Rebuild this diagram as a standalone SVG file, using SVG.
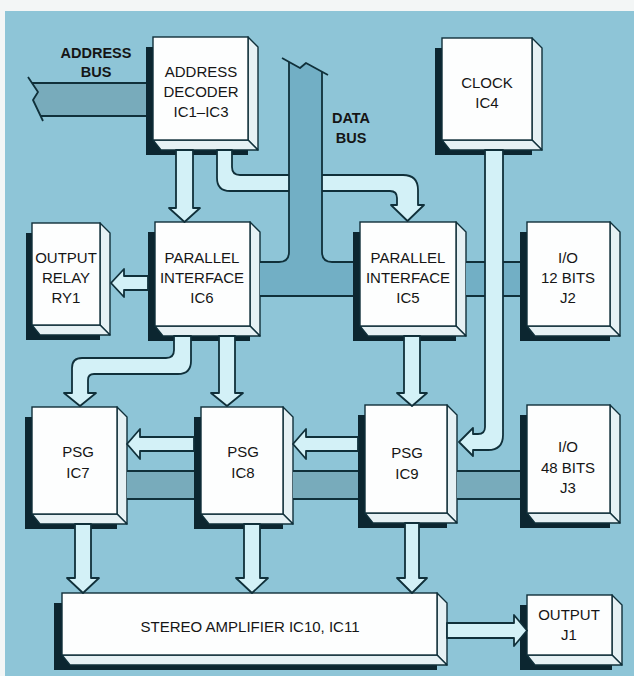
<svg xmlns="http://www.w3.org/2000/svg" width="634" height="676" viewBox="0 0 634 676">
<defs>
<style>
.sh{fill:#0c2630}
.bv{fill:#e6f1f4;stroke:#10303a;stroke-width:1.4;stroke-linejoin:round}
.fc{fill:#fdfefe;stroke:#10303a;stroke-width:1.4}
.t{font-family:"Liberation Sans",Arial,sans-serif;font-size:15px;fill:#151515;text-anchor:middle}
.lb{font-family:"Liberation Sans",Arial,sans-serif;font-size:14.5px;font-weight:bold;fill:#151515;text-anchor:middle}
.ar{fill:#d3f1f7;stroke:#10303a;stroke-width:1.8;stroke-linejoin:round}
.ln{fill:none;stroke:#10303a;stroke-width:1.8;stroke-linejoin:round}
.db{fill:#72afc5}
.ab{fill:#78abbb}
</style>
</defs>
<rect x="0" y="0" width="634" height="676" fill="#f3f6f6"/>
<rect x="5" y="11" width="629" height="665" fill="#8ec5d7"/>

<g id="labels">
<text class="lb" x="96" y="58">ADDRESS</text>
<text class="lb" x="96" y="77">BUS</text>
<text class="lb" x="351" y="123">DATA</text>
<text class="lb" x="351" y="143">BUS</text>
</g>

<g id="decoder">
<rect class="sh" x="146" y="47" width="102" height="108"/>
<polygon class="bv" points="248,37 258,47 258,150 248,140"/>
<polygon class="bv" points="153,140 248,140 258,150 161,150"/>
<rect class="fc" x="153" y="37" width="95" height="103"/>
<text class="t" x="201" y="77">ADDRESS</text>
<text class="t" x="201" y="97">DECODER</text>
<text class="t" x="201" y="117">IC1–IC3</text>
</g>

<g id="clock">
<rect class="sh" x="435" y="48" width="97" height="107"/>
<polygon class="bv" points="532,38 542,48 542,150 532,140"/>
<polygon class="bv" points="442,140 532,140 542,150 450,150"/>
<rect class="fc" x="442" y="38" width="90" height="102"/>
<text class="t" x="487" y="88">CLOCK</text>
<text class="t" x="487" y="108">IC4</text>
</g>

<g id="relay">
<rect class="sh" x="26" y="233" width="74" height="107"/>
<polygon class="bv" points="100,223 110,233 110,335 100,325"/>
<polygon class="bv" points="32,325 100,325 110,335 40,335"/>
<rect class="fc" x="32" y="223" width="68" height="102"/>
<text class="t" x="66" y="263">OUTPUT</text>
<text class="t" x="66" y="283">RELAY</text>
<text class="t" x="66" y="303">RY1</text>
</g>

<g id="ic6">
<rect class="sh" x="148" y="232" width="102" height="109"/>
<polygon class="bv" points="250,222 260,232 260,336 250,326"/>
<polygon class="bv" points="155,326 250,326 260,336 163,336"/>
<rect class="fc" x="155" y="222" width="95" height="104"/>
<text class="t" x="202" y="263">PARALLEL</text>
<text class="t" x="202" y="283">INTERFACE</text>
<text class="t" x="202" y="303">IC6</text>
</g>

<g id="ic5">
<rect class="sh" x="353" y="232" width="103" height="109"/>
<polygon class="bv" points="456,222 466,232 466,336 456,326"/>
<polygon class="bv" points="360,326 456,326 466,336 368,336"/>
<rect class="fc" x="360" y="222" width="96" height="104"/>
<text class="t" x="408" y="263">PARALLEL</text>
<text class="t" x="408" y="283">INTERFACE</text>
<text class="t" x="408" y="303">IC5</text>
</g>

<g id="j2">
<rect class="sh" x="520" y="232" width="90" height="109"/>
<polygon class="bv" points="610,222 620,232 620,336 610,326"/>
<polygon class="bv" points="527,326 610,326 620,336 535,336"/>
<rect class="fc" x="527" y="222" width="83" height="104"/>
<text class="t" x="568" y="263">I/O</text>
<text class="t" x="568" y="283">12 BITS</text>
<text class="t" x="568" y="303">J2</text>
</g>

<g id="ic7">
<rect class="sh" x="25" y="417" width="92" height="112"/>
<polygon class="bv" points="117,407 127,417 127,524 117,514"/>
<polygon class="bv" points="32,514 117,514 127,524 40,524"/>
<rect class="fc" x="32" y="407" width="85" height="107"/>
<text class="t" x="78" y="457">PSG</text>
<text class="t" x="78" y="478">IC7</text>
</g>

<g id="ic8">
<rect class="sh" x="194" y="417" width="89" height="112"/>
<polygon class="bv" points="283,407 293,417 293,524 283,514"/>
<polygon class="bv" points="201,514 283,514 293,524 209,524"/>
<rect class="fc" x="201" y="407" width="82" height="107"/>
<text class="t" x="243" y="457">PSG</text>
<text class="t" x="243" y="478">IC8</text>
</g>

<g id="ic9">
<rect class="sh" x="358" y="415" width="89" height="113"/>
<polygon class="bv" points="447,405 457,415 457,523 447,513"/>
<polygon class="bv" points="365,513 447,513 457,523 373,523"/>
<rect class="fc" x="365" y="405" width="82" height="108"/>
<text class="t" x="407" y="458">PSG</text>
<text class="t" x="407" y="479">IC9</text>
</g>

<g id="j3">
<rect class="sh" x="520" y="415" width="90" height="113"/>
<polygon class="bv" points="610,405 620,415 620,523 610,513"/>
<polygon class="bv" points="527,513 610,513 620,523 535,523"/>
<rect class="fc" x="527" y="405" width="83" height="108"/>
<text class="t" x="568" y="452">I/O</text>
<text class="t" x="568" y="473">48 BITS</text>
<text class="t" x="568" y="493">J3</text>
</g>

<g id="amp">
<rect class="sh" x="54" y="603" width="383" height="67"/>
<polygon class="bv" points="437,593 447,603 447,665 437,655"/>
<polygon class="bv" points="62,655 437,655 447,665 70,665"/>
<rect class="fc" x="62" y="593" width="375" height="62"/>
<text class="t" x="250" y="632">STEREO AMPLIFIER IC10, IC11</text>
</g>

<g id="j1">
<rect class="sh" x="520" y="605" width="92" height="65"/>
<polygon class="bv" points="612,595 622,605 622,665 612,655"/>
<polygon class="bv" points="527,655 612,655 622,665 535,665"/>
<rect class="fc" x="527" y="595" width="85" height="60"/>
<text class="t" x="569" y="620">OUTPUT</text>
<text class="t" x="569" y="640">J1</text>
</g>

<g id="connectors">
<!-- decoder to IC5 (passes beneath data bus) -->
<path class="ar" d="M217,150 L217,178 Q217,191 230,191 L390,191 Q397,191 397,198 L397,205 L391,205 L407.5,221 L424,205 L418,205 L418,190 Q418,175 403,175 L240,175 Q232,175 232,167 L232,150 Z"/>
<!-- data bus -->
<path class="db" d="M289,62 L300,68 L306,63 L322,72 L322,252 Q322,262 332,262 L353,262 L353,296 L260,296 L260,262 L279,262 Q289,262 289,252 Z"/>
<path class="ln" d="M289,62 L289,252 Q289,262 279,262 L260,262"/>
<path class="ln" d="M322,72 L322,252 Q322,262 332,262 L353,262"/>
<path class="ln" d="M260,296 L353,296"/>
<polyline class="ln" points="282,58 300,68 306,63 328,75"/>
<rect class="db" x="466" y="262" width="54" height="34"/>
<path class="ln" d="M466,262 L520,262 M466,296 L520,296"/>
<!-- address bus -->
<polygon class="ab" points="32,83 146,83 146,116 41,116 33,100 38,92"/>
<path class="ln" d="M32,83 L146,83 M41,116 L146,116"/>
<polyline class="ln" points="28,77 38,92 33,100 43,121"/>
<!-- lower bus -->
<rect class="ab" x="127" y="471" width="67" height="28"/>
<rect class="ab" x="293" y="471" width="65" height="28"/>
<rect class="ab" x="457" y="471" width="63" height="28"/>
<path class="ln" d="M127,471 L194,471 M127,499 L194,499 M293,471 L358,471 M293,499 L358,499 M457,471 L520,471 M457,499 L520,499"/>
<!-- arrows -->
<path class="ar" d="M176,150 L176,208 L169,208 L184.5,222 L200,208 L193,208 L193,150 Z"/>
<path class="ar" d="M148,276 L124,276 L124,269 L111,283 L124,297 L124,290 L148,290 Z"/>
<path class="ar" d="M174,336 L174,350 Q174,358 166,358 L82,358 Q72,358 72,368 L72,393 L64,393 L80,406 L96,393 L88,393 L88,380 Q88,374 94,374 L178,374 Q191,374 191,361 L191,336 Z"/>
<path class="ar" d="M219,336 L219,393 L211,393 L227,406 L243,393 L235,393 L235,336 Z"/>
<path class="ar" d="M404,336 L404,393 L397,393 L412,406 L427,393 L420,393 L420,336 Z"/>
<path class="ar" d="M485,150 L485,427 Q485,434 478,434 L473,434 L473,428 L459,442 L473,456 L473,450 L488,450 Q503,450 503,435 L503,150 Z"/>
<path class="ar" d="M358,437 L306,437 L306,429 L293,444 L306,459 L306,451 L358,451 Z"/>
<path class="ar" d="M194,437 L140,437 L140,429 L127,444 L140,459 L140,451 L194,451 Z"/>
<path class="ar" d="M75,524 L75,578 L67,578 L83,593 L99,578 L91,578 L91,524 Z"/>
<path class="ar" d="M244,524 L244,578 L236,578 L252,593 L268,578 L260,578 L260,524 Z"/>
<path class="ar" d="M405,523 L405,578 L397,578 L412,593 L427,578 L419,578 L419,523 Z"/>
<path class="ar" d="M447,623 L514,623 L514,615 L527,630.5 L514,646 L514,638 L447,638 Z"/>
</g>
</svg>
